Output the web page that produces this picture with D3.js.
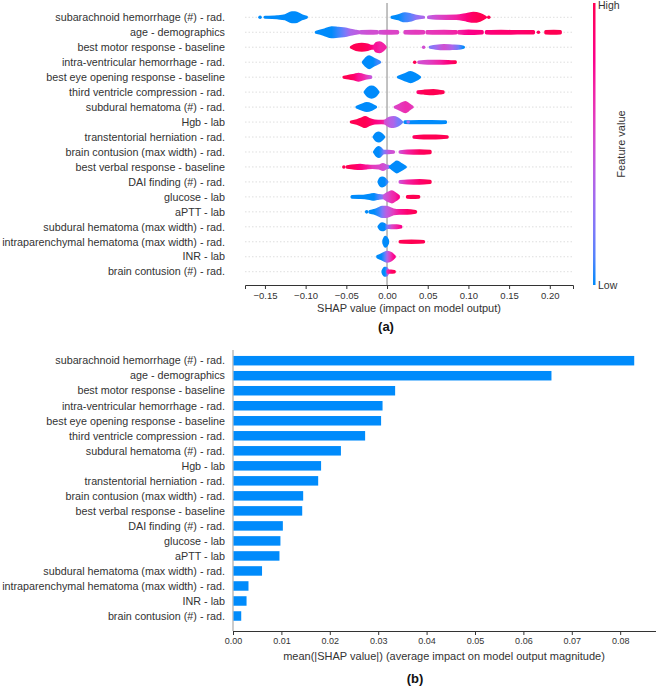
<!DOCTYPE html>
<html><head><meta charset="utf-8">
<script src="https://cdn.jsdelivr.net/npm/d3@7"></script>
<style>body{margin:0;background:#fff;} svg{display:block;font-family:"Liberation Sans",Arial,sans-serif;}</style>
</head><body><svg id="c" width="656" height="686"></svg>
<script>
// ---------------- DATA ----------------
const features = [
  "subarachnoid hemorrhage (#) - rad.",
  "age - demographics",
  "best motor response - baseline",
  "intra-ventricular hemorrhage - rad.",
  "best eye opening response - baseline",
  "third ventricle compression - rad.",
  "subdural hematoma (#) - rad.",
  "Hgb - lab",
  "transtentorial herniation - rad.",
  "brain contusion (max width) - rad.",
  "best verbal response - baseline",
  "DAI finding (#) - rad.",
  "glucose - lab",
  "aPTT - lab",
  "subdural hematoma (max width) - rad.",
  "intraparenchymal hematoma (max width) - rad.",
  "INR - lab",
  "brain contusion (#) - rad."
];
const meanAbsShap = [0.0829, 0.0658, 0.0335, 0.0309, 0.0306, 0.0273, 0.0223, 0.0182, 0.0176,
  0.0145, 0.0143, 0.0103, 0.0098, 0.0096, 0.0060, 0.0032, 0.0028, 0.0017];
const shapTicks = [-0.15, -0.10, -0.05, 0.00, 0.05, 0.10, 0.15, 0.20];
const barTicks = [0, 0.01, 0.02, 0.03, 0.04, 0.05, 0.06, 0.07, 0.08];

// Beeswarm density outlines: per feature, list of segments,
// each segment = knots [shap value, relative density, feature value (0 low .. 1 high)]
const swarmSegments = [
  [ // subarachnoid
    [[-0.150,0,0],[-0.135,0.08,0],[-0.125,0.25,0],[-0.117,0.7,0],[-0.113,0.7,0],[-0.105,0.25,0],[-0.099,0,0]],
    [[0.006,0,0],[0.014,0.25,0],[0.022,0.54,0.05],[0.028,0.45,0.1],[0.036,0.15,0.25],[0.045,0,0.35]],
    [[0.051,0.05,0.4],[0.06,0.15,0.5],[0.085,0.2,0.7],[0.098,0.45,0.85],[0.106,0.62,0.95],[0.114,0.45,1],[0.121,0,1]]
  ],
  [ // age
    [[-0.087,0,0],[-0.078,0.3,0],[-0.068,0.7,0],[-0.06,0.6,0.05],[-0.051,0.5,0.2],[-0.045,0.3,0.35],[-0.038,0.15,0.4],[-0.033,0.05,0.45]],
    [[-0.032,0.1,0.45],[-0.02,0.15,0.5],[-0.012,0.1,0.5]],
    [[-0.009,0.1,0.5],[0.0,0.15,0.55],[0.013,0.1,0.55]],
    [[0.022,0.1,0.55],[0.035,0.15,0.6],[0.045,0.1,0.6]],
    [[0.049,0.1,0.6],[0.07,0.15,0.65],[0.085,0.1,0.7]],
    [[0.088,0.1,0.7],[0.1,0.2,0.8],[0.117,0.1,0.85]],
    [[0.122,0.1,0.85],[0.14,0.15,0.9],[0.16,0.12,0.9],[0.18,0.1,0.95]],
    [[0.195,0.1,1],[0.205,0.15,1],[0.213,0.1,1]]
  ],
  [ // best motor
    [[-0.044,0,1],[-0.038,0.35,1],[-0.031,0.45,1],[-0.024,0.35,0.95],[-0.019,0.15,0.85],[-0.016,0.15,0.75],[-0.013,0.6,0.75],[-0.009,0.7,0.7],[-0.005,0.4,0.7],[-0.002,0,0.7]],
    [[0.053,0,0.2],[0.06,0.15,0.3],[0.07,0.25,0.5],[0.08,0.2,0.35],[0.088,0.15,0.15],[0.094,0,0]]
  ],
  [ // intra-ventricular
    [[-0.029,0.05,0],[-0.026,0.5,0],[-0.022,0.85,0],[-0.017,0.5,0],[-0.012,0.2,0.05],[-0.009,0,0.05]],
    [[0.039,0.05,0.5],[0.05,0.15,0.55],[0.065,0.15,0.7],[0.075,0.12,0.85],[0.084,0.05,1]]
  ],
  [ // best eye
    [[-0.053,0,1],[-0.047,0.15,1],[-0.04,0.3,0.9],[-0.035,0.46,0.75],[-0.03,0.3,0.7],[-0.025,0.15,0.6],[-0.02,0.05,0.45]],
    [[0.014,0,0],[0.022,0.4,0],[0.029,0.7,0],[0.035,0.4,0],[0.04,0,0]]
  ],
  [ // third ventricle
    [[-0.027,0,0],[-0.023,0.6,0],[-0.019,0.77,0],[-0.015,0.6,0],[-0.011,0,0]],
    [[0.038,0.05,0.9],[0.045,0.15,1],[0.057,0.25,1],[0.064,0.15,1],[0.069,0.05,1]]
  ],
  [ // subdural #
    [[-0.037,0,0],[-0.031,0.3,0],[-0.025,0.54,0],[-0.019,0.35,0],[-0.014,0,0]],
    [[0.010,0,0.55],[0.016,0.35,0.6],[0.0225,0.7,0.65],[0.027,0.35,0.65],[0.031,0,0.6]]
  ],
  [ // Hgb
    [[-0.044,0,1],[-0.037,0.2,1],[-0.031,0.5,1],[-0.027,0.7,1],[-0.022,0.4,0.95],[-0.015,0.15,0.85],[-0.007,0.12,0.75],[-0.002,0.15,0.65]],
    [[-0.002,0.15,0.5],[0.003,0.6,0.4],[0.008,0.7,0.35],[0.013,0.5,0.2],[0.018,0,0.15]],
    [[0.022,0.05,0],[0.04,0.1,0],[0.055,0.1,0],[0.072,0.05,0]]
  ],
  [ // transtentorial
    [[-0.016,0,0],[-0.013,0.5,0],[-0.01,0.62,0],[-0.007,0.4,0],[-0.004,0,0]],
    [[0.033,0.05,0.95],[0.045,0.15,1],[0.06,0.15,1],[0.074,0.05,1]]
  ],
  [ // brain contusion max width
    [[-0.0155,0,0],[-0.012,0.6,0],[-0.010,0.7,0],[-0.007,0.4,0.05],[-0.004,0.1,0.2],[0.002,0.1,0.45],[0.008,0.05,0.5]],
    [[0.016,0.05,0.5],[0.025,0.15,0.7],[0.04,0.2,0.95],[0.053,0.1,1]]
  ],
  [ // best verbal
    [[-0.049,0.05,1],[-0.04,0.2,0.95],[-0.033,0.25,0.85],[-0.025,0.15,0.75],[-0.018,0.1,0.6],[-0.01,0.15,0.55],[-0.005,0.38,0.5],[-0.001,0.15,0.45],[0.002,0.1,0.3]],
    [[0.004,0,0],[0.009,0.5,0],[0.012,0.77,0],[0.016,0.5,0],[0.0225,0,0]]
  ],
  [ // DAI
    [[-0.010,0,0],[-0.008,0.5,0],[-0.006,0.62,0],[-0.003,0.45,0],[0.0,0,0.05]],
    [[0.016,0.05,0.5],[0.025,0.15,0.7],[0.04,0.2,0.9],[0.053,0.1,1]]
  ],
  [ // glucose
    [[-0.043,0.05,0],[-0.035,0.1,0],[-0.027,0.15,0],[-0.02,0.3,0],[-0.016,0.35,0],[-0.01,0.2,0.1],[-0.004,0.15,0.3]],
    [[-0.003,0.2,0.45],[0.002,0.6,0.55],[0.006,0.77,0.65],[0.01,0.5,0.7],[0.014,0.1,0.8]],
    [[0.025,0.05,1],[0.032,0.1,1],[0.039,0.05,1]]
  ],
  [ // aPTT
    [[-0.021,0.05,0],[-0.016,0.2,0],[-0.01,0.5,0.05],[-0.006,0.7,0.2],[-0.001,0.7,0.4],[0.004,0.5,0.5],[0.008,0.3,0.6],[0.015,0.2,0.75],[0.025,0.2,0.9],[0.035,0.05,1]]
  ],
  [ // subdural max width
    [[-0.010,0,0],[-0.008,0.35,0],[-0.006,0.46,0],[-0.003,0.35,0],[0.0,0.1,0.2],[0.006,0.15,0.55],[0.012,0.15,0.7],[0.017,0.05,0.8]]
  ],
  [ // intraparenchymal
    [[-0.004,0.2,0],[-0.002,0.7,0],[0.0007,0.2,0]],
    [[0.016,0.05,1],[0.03,0.1,1],[0.045,0.05,1]]
  ],
  [ // INR
    [[-0.0115,0.05,0],[-0.007,0.3,0],[-0.003,0.55,0.1],[0.0,0.7,0.35],[0.004,0.55,0.6],[0.007,0.3,0.75],[0.009,0.05,0.8]]
  ],
  [ // brain contusion #
    [[-0.005,0.1,0],[-0.003,0.54,0],[-0.001,0.54,0.05],[0.001,0.2,0.4]],
    [[0.001,0.1,0.7],[0.005,0.1,0.9],[0.009,0.05,1]]
  ]
];
// isolated points: [feature index, shap value, feature value]
const swarmDots = [
  [0, -0.156, 0], [0, 0.125, 1],
  [1, 0.186, 0.95],
  [2, 0.045, 0.5],
  [3, 0.034, 1],
  [7, 0.026, 0.3],
  [10, -0.053, 1],
  [13, -0.025, 0]
];

// ---------------- DRAW ----------------
const svg = d3.select("#c");
const defs = svg.append("defs");
const fvColor = d3.interpolateHcl("#008bfb", "#ff0052");
const txt = "#333";
const labelSize = 10.75;

// ===== (a) beeswarm =====
const xA = d3.scaleLinear().domain([-0.1745, 0.2285]).range([245, 573]);
const yA = d3.scalePoint().domain(features).range([17.3, 271.7]);
const thick = d3.scaleLinear().domain([0, 1]).range([0, 6.5]);
const gA = svg.append("g");

// grid lines
gA.selectAll("line.grid").data(features).join("line")
  .attr("x1", xA.range()[0]).attr("x2", xA.range()[1])
  .attr("y1", d => yA(d)).attr("y2", d => yA(d))
  .attr("stroke", "#d6d6d6").attr("stroke-width", 0.8).attr("stroke-dasharray", "1.5,2");

// zero line
gA.append("line").attr("x1", xA(0)).attr("x2", xA(0)).attr("y1", 3).attr("y2", 285)
  .attr("stroke", "#999").attr("stroke-width", 1.2);

// labels
gA.selectAll("text.lab").data(features).join("text")
  .attr("x", 225).attr("y", d => yA(d)).attr("dy", "0.35em")
  .attr("text-anchor", "end").attr("font-size", labelSize).attr("fill", txt).text(d => d);

// swarm segments
let gid = 0;
swarmSegments.forEach((segs, i) => {
  const cy = yA(features[i]);
  segs.forEach(knots => {
    const id = "g" + (gid++);
    const v0 = knots[0][0], v1 = knots[knots.length - 1][0];
    const grad = defs.append("linearGradient").attr("id", id)
      .attr("gradientUnits", "userSpaceOnUse")
      .attr("x1", xA(v0)).attr("x2", xA(v1)).attr("y1", 0).attr("y2", 0);
    knots.forEach(k => grad.append("stop")
      .attr("offset", (v1 === v0 ? 0 : (k[0] - v0) / (v1 - v0)))
      .attr("stop-color", fvColor(k[2])));
    const area = d3.area().curve(d3.curveMonotoneX)
      .x(k => xA(k[0])).y0(k => cy - thick(k[1])).y1(k => cy + thick(k[1]));
    gA.append("path").attr("d", area(knots))
      .attr("fill", `url(#${id})`).attr("stroke", `url(#${id})`)
      .attr("stroke-width", 3).attr("stroke-linejoin", "round").attr("stroke-linecap", "round");
  });
});
gA.selectAll("circle.dot").data(swarmDots).join("circle")
  .attr("cx", d => xA(d[1])).attr("cy", d => yA(features[d[0]])).attr("r", 1.8)
  .attr("fill", d => fvColor(d[2]));

// x axis
const axA = gA.append("g").attr("transform", "translate(0,285)")
  .call(d3.axisBottom(xA).tickValues(shapTicks).tickFormat(d3.format(".2f")).tickSizeOuter(0).tickSize(4).tickPadding(3));
axA.select(".domain").attr("stroke", "#333");
axA.selectAll(".tick line").attr("stroke", "#333");
axA.selectAll(".tick text").attr("font-size", 9.5).attr("fill", txt).attr("font-family", "Liberation Sans, Arial, sans-serif");
gA.append("text").attr("x", 409).attr("y", 312).attr("text-anchor", "middle")
  .attr("font-size", 11).attr("fill", txt).text("SHAP value (impact on model output)");
gA.append("text").attr("x", 386).attr("y", 331).attr("text-anchor", "middle")
  .attr("font-size", 13).attr("font-weight", "bold").attr("fill", "#111").text("(a)");

// colour bar
const cbGrad = defs.append("linearGradient").attr("id", "cb")
  .attr("x1", 0).attr("x2", 0).attr("y1", 1).attr("y2", 0);
d3.range(0, 1.0001, 0.1).forEach(t => cbGrad.append("stop").attr("offset", t).attr("stop-color", fvColor(t)));
const cbY = d3.scaleLinear().domain([0, 1]).range([285, 3]);
svg.append("rect").attr("x", 593).attr("y", cbY(1)).attr("width", 2.5).attr("height", cbY(0) - cbY(1))
  .attr("fill", "url(#cb)");
svg.append("text").attr("x", 598).attr("y", cbY(1) + 6).attr("font-size", 10.5).attr("fill", txt).text("High");
svg.append("text").attr("x", 598).attr("y", cbY(0) + 4).attr("font-size", 10.5).attr("fill", txt).text("Low");
svg.append("text").attr("transform", `translate(625,${(cbY(0) + cbY(1)) / 2}) rotate(-90)`)
  .attr("text-anchor", "middle").attr("font-size", 11).attr("fill", txt).text("Feature value");

// ===== (b) bar chart =====
const xB = d3.scaleLinear().domain([0, 0.0874]).range([233, 656]);
const yB = d3.scalePoint().domain(features).range([360.7, 616]);
const gB = svg.append("g");
gB.selectAll("text.lab").data(features).join("text")
  .attr("x", 225).attr("y", d => yB(d)).attr("dy", "0.35em")
  .attr("text-anchor", "end").attr("font-size", labelSize).attr("fill", txt).text(d => d);
gB.append("line").attr("x1", xB(0)).attr("x2", xB(0)).attr("y1", 350).attr("y2", 631)
  .attr("stroke", "#999").attr("stroke-width", 1);
gB.selectAll("rect.bar").data(meanAbsShap).join("rect")
  .attr("x", xB(0) + 0.5).attr("y", (d, i) => yB(features[i]) - 4.75)
  .attr("width", d => xB(d) - xB(0) - 0.5).attr("height", 9.5).attr("fill", "#008bfb");
const axB = gB.append("g").attr("transform", "translate(0,631)")
  .call(d3.axisBottom(xB).tickValues(barTicks).tickFormat(d3.format(".2f")).tickSizeOuter(0).tickSize(4).tickPadding(3));
axB.select(".domain").attr("stroke", "#333");
axB.selectAll(".tick line").attr("stroke", "#333");
axB.selectAll(".tick text").attr("font-size", 9).attr("fill", txt).attr("font-family", "Liberation Sans, Arial, sans-serif");
gB.append("text").attr("x", 444).attr("y", 660).attr("text-anchor", "middle")
  .attr("font-size", 11).attr("fill", txt).text("mean(|SHAP value|) (average impact on model output magnitude)");
gB.append("text").attr("x", 415).attr("y", 683).attr("text-anchor", "middle")
  .attr("font-size", 13).attr("font-weight", "bold").attr("fill", "#111").text("(b)");
</script>
</body></html>
